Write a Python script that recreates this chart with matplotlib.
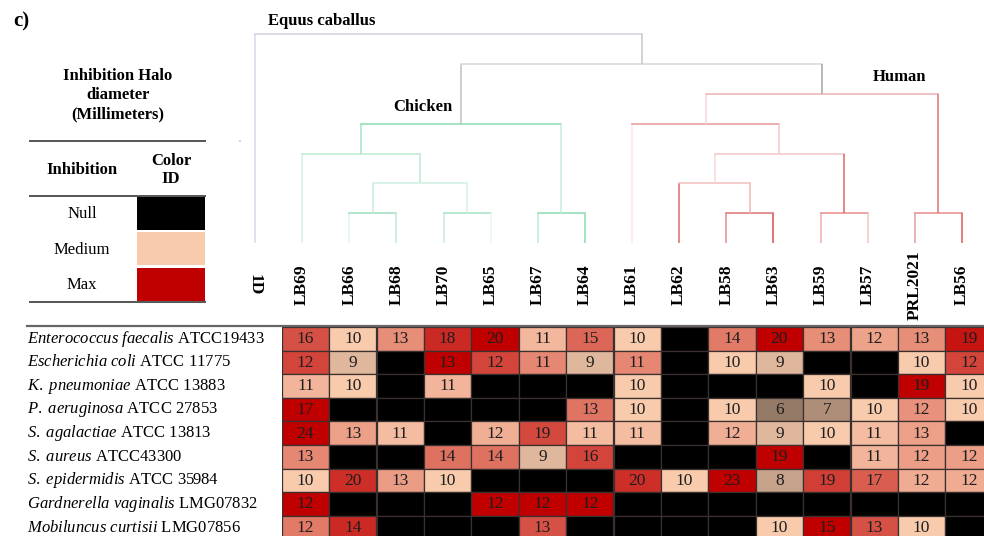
import numpy as np
import matplotlib

matplotlib.use("Agg")
import matplotlib.pyplot as plt  # noqa: E402
from matplotlib.lines import Line2D  # noqa: E402
from matplotlib.patches import Rectangle  # noqa: E402
from matplotlib.transforms import blended_transform_factory  # noqa: E402

plt.rcParams["font.family"] = ["Liberation Serif", "DejaVu Serif"]
plt.rcParams["mathtext.fontset"] = "custom"
plt.rcParams["mathtext.rm"] = "Liberation Serif"
plt.rcParams["mathtext.it"] = "Liberation Serif:italic"

# Dendrogram leaves, left to right
strains = ["1D", "LB69", "LB66", "LB68", "LB70", "LB65", "LB67", "LB64",
           "LB61", "LB62", "LB58", "LB63", "LB59", "LB57", "PRL2021", "LB56"]

# Merges: (left node, right node, level). Leaves are 0..15, merges get ids 16, 17, ...
merges = [
    (2, 3, 1), (4, 5, 1), (6, 7, 1), (10, 11, 1), (12, 13, 1), (14, 15, 1),
    (16, 17, 2), (9, 19, 2),
    (1, 22, 3), (23, 20, 3),
    (24, 18, 4), (8, 25, 4),
    (27, 21, 5),
    (26, 28, 6),
    (0, 29, 7),
]
# (left leg, bar, right leg) colours for each merge
merge_colours = [
    ("#e2f6ec", "#9fe0bf", "#c2ecd6"), ("#c8eedb", "#a8e4c5", "#e8f8f0"),
    ("#c0ecd5", "#90dcb5", "#90dcb5"), ("#e89090", "#e07878", "#d85858"),
    ("#f0b0b0", "#e89090", "#f4c8c8"), ("#e8a0a0", "#e89090", "#e06060"),
    ("#c8eedb", "#d0f0e0", "#d8f2e5"), ("#e07070", "#f0c0c0", "#f0b8b8"),
    ("#d4f2e3", "#c0ecd5", "#c0ecd5"), ("#f8dada", "#f4c8c8", "#e06c6c"),
    ("#a8e4c5", "#90dcb5", "#c8eedb"), ("#fbe6e6", "#e89a9a", "#f4c8c8"),
    ("#f8d8d8", "#eeb4b4", "#e07878"),
    ("#c4c4c4", "#d8d8d8", "#a8a8a8"),
    ("#e0d4f0", "#d8d0e4", "#c8c8c8"),
]
cluster_names = ["Equus caballus", "Chicken", "Human"]

# Inhibition halo diameters (mm); 0 = no inhibition
pathogens = [
    ("Enterococcus\\ faecalis", "ATCC19433"),
    ("Escherichia\\ coli", "ATCC 11775"),
    ("K.\\ pneumoniae", "ATCC 13883"),
    ("P.\\ aeruginosa", "ATCC 27853"),
    ("S.\\ agalactiae", "ATCC 13813"),
    ("S.\\ aureus", "ATCC43300"),
    ("S.\\ epidermidis", "ATCC 35984"),
    ("Gardnerella\\ vaginalis", "LMG07832"),
    ("Mobiluncus\\ curtisii", "LMG07856"),
]
halo = np.array([
    [16, 10, 13, 18, 20, 11, 15, 10, 0, 14, 20, 13, 12, 13, 19],
    [12, 9, 0, 13, 12, 11, 9, 11, 0, 10, 9, 0, 0, 10, 12],
    [11, 10, 0, 11, 0, 0, 0, 10, 0, 0, 0, 10, 0, 19, 10],
    [17, 0, 0, 0, 0, 0, 13, 10, 0, 10, 6, 7, 10, 12, 10],
    [24, 13, 11, 0, 12, 19, 11, 11, 0, 12, 9, 10, 11, 13, 0],
    [13, 0, 0, 14, 14, 9, 16, 0, 0, 0, 19, 0, 11, 12, 12],
    [10, 20, 13, 10, 0, 0, 0, 20, 10, 23, 8, 19, 17, 12, 12],
    [12, 0, 0, 0, 12, 12, 12, 0, 0, 0, 0, 0, 0, 0, 0],
    [12, 14, 0, 0, 0, 13, 0, 0, 0, 0, 10, 15, 13, 10, 0],
])
scale_names = ["Null", "Medium", "Max"]
scale_colours = ["#000000", "#f8cbad", "#c00000"]

W, H = 984, 536
fig = plt.figure(figsize=(W / 100, H / 100), dpi=100)


def px_axes(x0, y0, x1, y1):
    """Axes placed by pixel box (top-left origin)."""
    return fig.add_axes([x0 / W, 1 - y1 / H, (x1 - x0) / W, (y1 - y0) / H])


def rgb(hexcol):
    return np.array(matplotlib.colors.to_rgb(hexcol))


def cell_colour(v, vmax):
    # three-point scale per row: 0 -> black, 10 -> peach, row max -> dark red
    lo, mid, hi = (rgb(c) for c in scale_colours)
    if v <= 10:
        return lo + (v / 10) * (mid - lo)
    return mid + (v - 10) / (vmax - 10) * (hi - mid)


# ---- dendrogram ----
step = 47.13
dax = px_axes(255 - step / 2, 34.4, 255 + step * 15.5, 243)
dax.set_xlim(-0.5, 15.5)
dax.set_ylim(0, 7)
dax.axis("off")

xpos = {i: float(i) for i in range(len(strains))}
ypos = {i: 0.0 for i in range(len(strains))}
for k, ((a, b, lvl), (cl, cb, cr)) in enumerate(zip(merges, merge_colours)):
    node = len(strains) + k
    xa, xb = xpos[a], xpos[b]
    dax.plot([xa, xa], [ypos[a], lvl], color=cl, lw=1.15, clip_on=False, solid_capstyle="butt")
    dax.plot([xa, xb], [lvl, lvl], color=cb, lw=1.15, clip_on=False)
    dax.plot([xb, xb], [ypos[b], lvl], color=cr, lw=1.15, clip_on=False, solid_capstyle="butt")
    xpos[node] = (xa + xb) / 2
    ypos[node] = lvl

for i, name in enumerate(strains):
    dax.text(i, -1.41, name, rotation=-90 if name == "1D" else 90, ha="center", va="center",
             fontsize=12.5, fontweight="bold", clip_on=False)

dax.text(0.28, 7.45, cluster_names[0], ha="left", va="center", fontsize=12, fontweight="bold")
dax.text(4.18, 4.56, cluster_names[1], ha="right", va="center", fontsize=12, fontweight="bold")
dax.text(13.11, 5.57, cluster_names[2], ha="left", va="center", fontsize=12, fontweight="bold")
fig.text(241 / W, 1 - 140 / H, "n", fontsize=3, color="#999999", rotation=90, ha="center", va="center")

# ---- heatmap ----
cw, rh = 47.4, 23.6
hax = px_axes(281.7, 327, 281.7 + cw * halo.shape[1], 327 + rh * halo.shape[0])
hax.set_xlim(0, halo.shape[1])
hax.set_ylim(halo.shape[0], 0)
hax.axis("off")

for r, row in enumerate(halo):
    vmax = row.max()
    for c, v in enumerate(row):
        col = cell_colour(v, vmax) if v > 0 else rgb(scale_colours[0])
        hax.add_patch(Rectangle((c, r), 1, 1, facecolor=col, edgecolor="#3a3030", lw=0.9))
        if v > 0:
            hax.text(c + 0.5, r + 0.52, str(v), ha="center", va="center", fontsize=12.5, color="#1e1e1e")

lab_tr = blended_transform_factory(fig.transFigure, hax.transData)
for r, (species, strain) in enumerate(pathogens):
    hax.text(27 / W, r + 0.5, f"$\\mathit{{{species}}}$ {strain}", transform=lab_tr,
             ha="left", va="center", fontsize=12)

fig.add_artist(Line2D([27 / W, 1], [1 - 326 / H] * 2, color="#666666", lw=1.6))

# ---- colour key ----
lax = px_axes(0, 0, 230, 320)
lax.set_xlim(0, 230)
lax.set_ylim(320, 0)
lax.axis("off")
lax.text(13, 21, "c)", fontsize=15, fontweight="bold", ha="left", va="center")
lax.text(118, 95, "Inhibition Halo\ndiameter\n(Millimeters)", fontsize=12, fontweight="bold",
         ha="center", va="center", linespacing=1.25)
for yy in (141, 196, 302):
    lax.plot([30, 205], [yy, yy], color="#555555", lw=1.4)
lax.text(82, 170, "Inhibition", fontsize=12, fontweight="bold", ha="center", va="center")
lax.text(171, 170, "Color\nID", fontsize=12, fontweight="bold", ha="center", va="center", linespacing=1.2)
for k, (name, col) in enumerate(zip(scale_names, scale_colours)):
    y0 = 196 + k * 35.5
    lax.add_patch(Rectangle((137, y0 + 0.5), 68, 33, facecolor=col, edgecolor="none"))
    lax.text(82, y0 + 18, name, fontsize=12, ha="center", va="center")

fig.savefig("out.png", dpi=100)
